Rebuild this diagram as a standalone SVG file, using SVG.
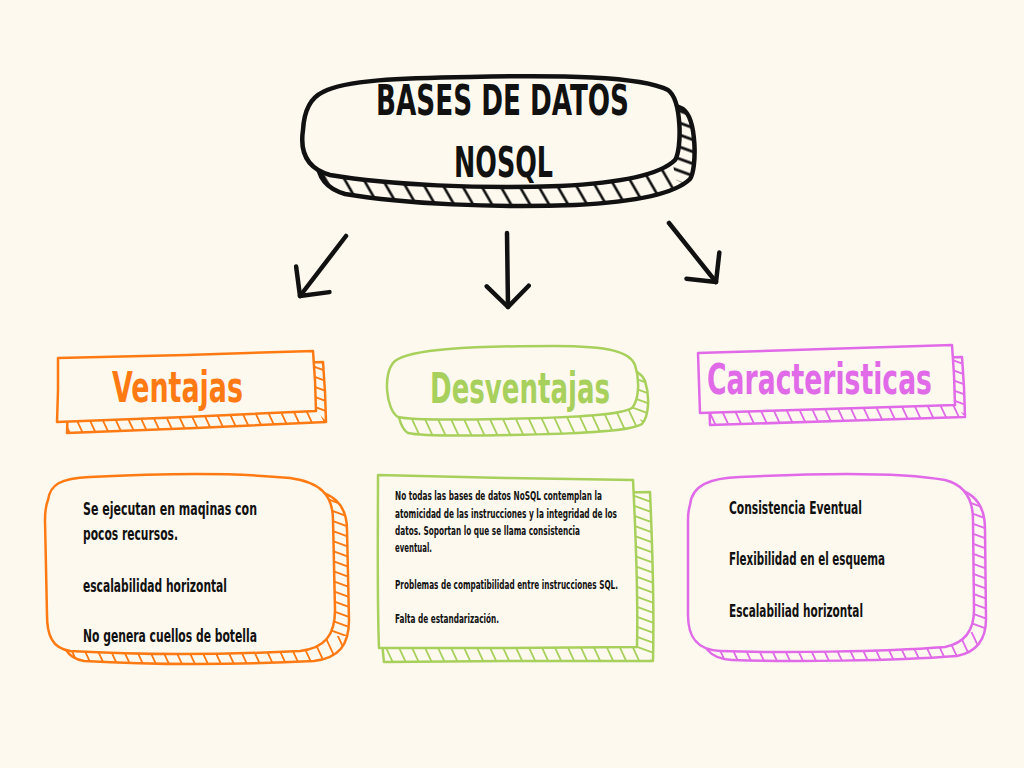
<svg xmlns="http://www.w3.org/2000/svg" xmlns:xlink="http://www.w3.org/1999/xlink" width="1024" height="768" viewBox="0 0 1024 768">
<style>
.t{font-family:"Liberation Sans Narrow","DejaVu Sans Condensed","Roboto","Liberation Sans",sans-serif;}
.title{font-size:43px;font-weight:bold;fill:#111;}
.hd{font-size:42px;font-weight:600;}
.body{font-size:17px;font-weight:600;fill:#111;}
.small{font-size:12px;font-weight:600;fill:#111;}
.arrow{fill:none;stroke:#111;stroke-width:4.5;stroke-linecap:round;stroke-linejoin:round;}
.ol{fill:none;stroke-linejoin:round;stroke-linecap:round;}
.front{fill:#fdf9ef;stroke-linejoin:round;}
.o{stroke:#ff7a12;}
.g{stroke:#a8d05c;}
.p{stroke:#e06ae8;}
.k{stroke:#111;}
</style>
<defs>
<marker id="ah" viewBox="-26 -26 32 52" refX="0" refY="0" markerWidth="32" markerHeight="52" markerUnits="userSpaceOnUse" orient="auto" overflow="visible">
<path d="M-21,-21 L0,0 L-21,21" fill="none" stroke="#111" stroke-width="4.5" stroke-linecap="round" stroke-linejoin="round"/>
</marker>
<pattern id="vk" patternUnits="userSpaceOnUse" width="19" height="40" patternTransform="skewX(30)"><rect width="19" height="40" fill="#fdf9ef"/><line x1="9" y1="-1" x2="9" y2="41" stroke="#111" stroke-width="3"/></pattern>
<pattern id="hk" patternUnits="userSpaceOnUse" width="40" height="12" patternTransform="skewY(20)"><rect width="40" height="12" fill="#fdf9ef"/><line x1="-1" y1="6" x2="41" y2="6" stroke="#111" stroke-width="3"/></pattern>
<pattern id="vo" patternUnits="userSpaceOnUse" width="13" height="20" patternTransform="skewX(25)"><rect width="13" height="20" fill="#fdf9ef"/><line x1="6" y1="-1" x2="6" y2="21" stroke="#ff7a12" stroke-width="2"/></pattern>
<pattern id="ho" patternUnits="userSpaceOnUse" width="20" height="10" patternTransform="skewY(20)"><rect width="20" height="10" fill="#fdf9ef"/><line x1="-1" y1="5" x2="21" y2="5" stroke="#ff7a12" stroke-width="2"/></pattern>
<pattern id="vg" patternUnits="userSpaceOnUse" width="13" height="20" patternTransform="skewX(25)"><rect width="13" height="20" fill="#fdf9ef"/><line x1="6" y1="-1" x2="6" y2="21" stroke="#a8d05c" stroke-width="2"/></pattern>
<pattern id="hg" patternUnits="userSpaceOnUse" width="20" height="10" patternTransform="skewY(20)"><rect width="20" height="10" fill="#fdf9ef"/><line x1="-1" y1="5" x2="21" y2="5" stroke="#a8d05c" stroke-width="2"/></pattern>
<pattern id="vp" patternUnits="userSpaceOnUse" width="13" height="20" patternTransform="skewX(25)"><rect width="13" height="20" fill="#fdf9ef"/><line x1="6" y1="-1" x2="6" y2="21" stroke="#e06ae8" stroke-width="2"/></pattern>
<pattern id="hp" patternUnits="userSpaceOnUse" width="20" height="10" patternTransform="skewY(20)"><rect width="20" height="10" fill="#fdf9ef"/><line x1="-1" y1="5" x2="21" y2="5" stroke="#e06ae8" stroke-width="2"/></pattern>

<path id="s-title" d="M323,92 C345,80 400,78 470,77 C560,75 640,76 668,90 C682,100 682,150 675,160 C660,175 620,183 560,186 C480,189 390,185 330,175 C305,168 300,150 303,130 C304,112 310,98 323,92 Z"/>
<path id="s-h1" d="M58,358 L186,355 L313,351 L315,381 L316,411 L186,417 L57,422 L58,390 Z"/>
<path id="s-h2" d="M398,417 C386,410 382,372 395,361 C410,349 470,346 555,346 C610,346 630,352 635,365 C640,380 639,400 632,408 C620,416 560,418 500,419 C450,420 410,420 398,417 Z"/>
<path id="s-h3" d="M698,353 L825,349 L952,345 L954,375 L955,405 L828,409 L700,413 L699,383 Z"/>
<path id="s-b1" d="M48,500 C50,485 60,478 90,477 C150,474 230,472 290,478 C320,482 333,495 333,520 L335,610 C335,635 325,648 300,651 C220,655 140,655 70,651 C52,648 47,635 47,615 L45,520 C45,510 46,505 48,500 Z"/>
<path id="s-b2" d="M378,475 L505,478 L633,480 C636,540 638,600 637,647 L508,648 L379,648 C377,600 378,530 378,475 Z"/>
<path id="s-b2b" d="M380,500 L505,495 L650,492 C653,560 654,620 653,661 L508,661 L384,662 C381,640 380,560 380,500 Z"/>
<path id="s-b3" d="M690,505 C692,485 710,478 740,477 C820,473 900,472 945,480 C965,485 973,500 973,520 L974,610 C974,630 965,643 945,647 C880,652 780,653 720,651 C695,650 688,635 688,615 L688,520 C688,512 689,508 690,505 Z"/>

<clipPath id="c-title"><polygon points="670,60 720,60 720,200 676,180 672,160"/></clipPath>
<clipPath id="c-h1"><polygon points="313,330 350,330 350,421 326,421 316,411"/></clipPath>
<clipPath id="c-h2"><polygon points="625,340 670,340 670,424 643,424 632,408"/></clipPath>
<clipPath id="c-h3"><polygon points="952,330 990,330 990,417 965,417 955,405"/></clipPath>
<clipPath id="c-b1"><polygon points="310,470 380,470 380,636 310,636"/></clipPath>
<clipPath id="c-b2"><polygon points="634,470 680,470 680,661 653,661 637,648"/></clipPath>
<clipPath id="c-b3"><polygon points="960,470 1010,470 1010,632 960,632"/></clipPath>
</defs>

<rect width="1024" height="768" fill="#fdf9ef"/>

<g id="node-title">
<use href="#s-title" transform="translate(15,19)" fill="url(#vk)"/>
<g clip-path="url(#c-title)"><use href="#s-title" transform="translate(15,19)" fill="url(#hk)"/></g>
<use href="#s-title" transform="translate(15,19)" class="ol k" stroke-width="4.5"/>
<use href="#s-title" class="front k" stroke-width="4.5"/>
<text class="t title" x="376" y="115" textLength="253" lengthAdjust="spacingAndGlyphs">BASES DE DATOS</text>
<text class="t title" x="454" y="177" textLength="99" lengthAdjust="spacingAndGlyphs">NOSQL</text>
</g>

<g id="connectors">
<path class="arrow" d="M346,236 L300,296" marker-end="url(#ah)"/>
<path class="arrow" d="M507,233 L508,307" marker-end="url(#ah)"/>
<path class="arrow" d="M669,223 L716,282" marker-end="url(#ah)"/>
</g>

<g id="node-ventajas">
<use href="#s-h1" transform="translate(10,11)" fill="url(#vo)"/>
<g clip-path="url(#c-h1)"><use href="#s-h1" transform="translate(10,11)" fill="url(#ho)"/></g>
<use href="#s-h1" transform="translate(10,11)" class="ol o" stroke-width="2.5"/>
<use href="#s-h1" class="front o" stroke-width="2.5"/>
<text class="t hd" x="112" y="402" fill="#ff7a12" textLength="131" lengthAdjust="spacingAndGlyphs">Ventajas</text>
</g>

<g id="node-desventajas">
<use href="#s-h2" transform="translate(10,16)" fill="url(#vg)"/>
<g clip-path="url(#c-h2)"><use href="#s-h2" transform="translate(10,16)" fill="url(#hg)"/></g>
<use href="#s-h2" transform="translate(10,16)" class="ol g" stroke-width="2.5"/>
<use href="#s-h2" class="front g" stroke-width="2.5"/>
<text class="t hd" x="430" y="403" fill="#a8d05c" textLength="180" lengthAdjust="spacingAndGlyphs">Desventajas</text>
</g>

<g id="node-caracteristicas">
<use href="#s-h3" transform="translate(10,12)" fill="url(#vp)"/>
<g clip-path="url(#c-h3)"><use href="#s-h3" transform="translate(10,12)" fill="url(#hp)"/></g>
<use href="#s-h3" transform="translate(10,12)" class="ol p" stroke-width="2.5"/>
<use href="#s-h3" class="front p" stroke-width="2.5"/>
<text class="t hd" x="707" y="394" fill="#e06ae8" textLength="225" lengthAdjust="spacingAndGlyphs">Caracteristicas</text>
</g>

<g id="node-ventajas-detalle">
<use href="#s-b1" transform="translate(14,10)" fill="url(#vo)"/>
<g clip-path="url(#c-b1)"><use href="#s-b1" transform="translate(14,10)" fill="url(#ho)"/></g>
<use href="#s-b1" transform="translate(14,10)" class="ol o" stroke-width="2.5"/>
<use href="#s-b1" class="front o" stroke-width="2.5"/>
<text class="t body" x="83" y="515" textLength="174" lengthAdjust="spacingAndGlyphs">Se ejecutan en maqinas con</text>
<text class="t body" x="83" y="540" textLength="95" lengthAdjust="spacingAndGlyphs">pocos recursos.</text>
<text class="t body" x="83" y="592" textLength="144" lengthAdjust="spacingAndGlyphs">escalabilidad horizontal</text>
<text class="t body" x="83" y="642" textLength="174" lengthAdjust="spacingAndGlyphs">No genera cuellos de botella</text>
</g>

<g id="node-desventajas-detalle">
<use href="#s-b2b" fill="url(#vg)"/>
<g clip-path="url(#c-b2)"><use href="#s-b2b" fill="url(#hg)"/></g>
<use href="#s-b2b" class="ol g" stroke-width="2.5"/>
<use href="#s-b2" class="front g" stroke-width="2.5"/>
<text class="t small" x="395" y="500" textLength="207" lengthAdjust="spacingAndGlyphs">No todas las bases de datos NoSQL contemplan la</text>
<text class="t small" x="395" y="518" textLength="222" lengthAdjust="spacingAndGlyphs">atomicidad de las instrucciones y la integridad de los</text>
<text class="t small" x="395" y="535" textLength="185" lengthAdjust="spacingAndGlyphs">datos. Soportan lo que se llama consistencia</text>
<text class="t small" x="395" y="552" textLength="37" lengthAdjust="spacingAndGlyphs">eventual.</text>
<text class="t small" x="395" y="589" textLength="223" lengthAdjust="spacingAndGlyphs">Problemas de compatibilidad entre instrucciones SQL.</text>
<text class="t small" x="395" y="623" textLength="104" lengthAdjust="spacingAndGlyphs">Falta de estandarización.</text>
</g>

<g id="node-caracteristicas-detalle">
<use href="#s-b3" transform="translate(12,9)" fill="url(#vp)"/>
<g clip-path="url(#c-b3)"><use href="#s-b3" transform="translate(12,9)" fill="url(#hp)"/></g>
<use href="#s-b3" transform="translate(12,9)" class="ol p" stroke-width="2.5"/>
<use href="#s-b3" class="front p" stroke-width="2.5"/>
<text class="t body" x="729" y="514" textLength="133" lengthAdjust="spacingAndGlyphs">Consistencia Eventual</text>
<text class="t body" x="729" y="565" textLength="156" lengthAdjust="spacingAndGlyphs">Flexibilidad en el esquema</text>
<text class="t body" x="729" y="617" textLength="134" lengthAdjust="spacingAndGlyphs">Escalabiliad horizontal</text>
</g>
</svg>
